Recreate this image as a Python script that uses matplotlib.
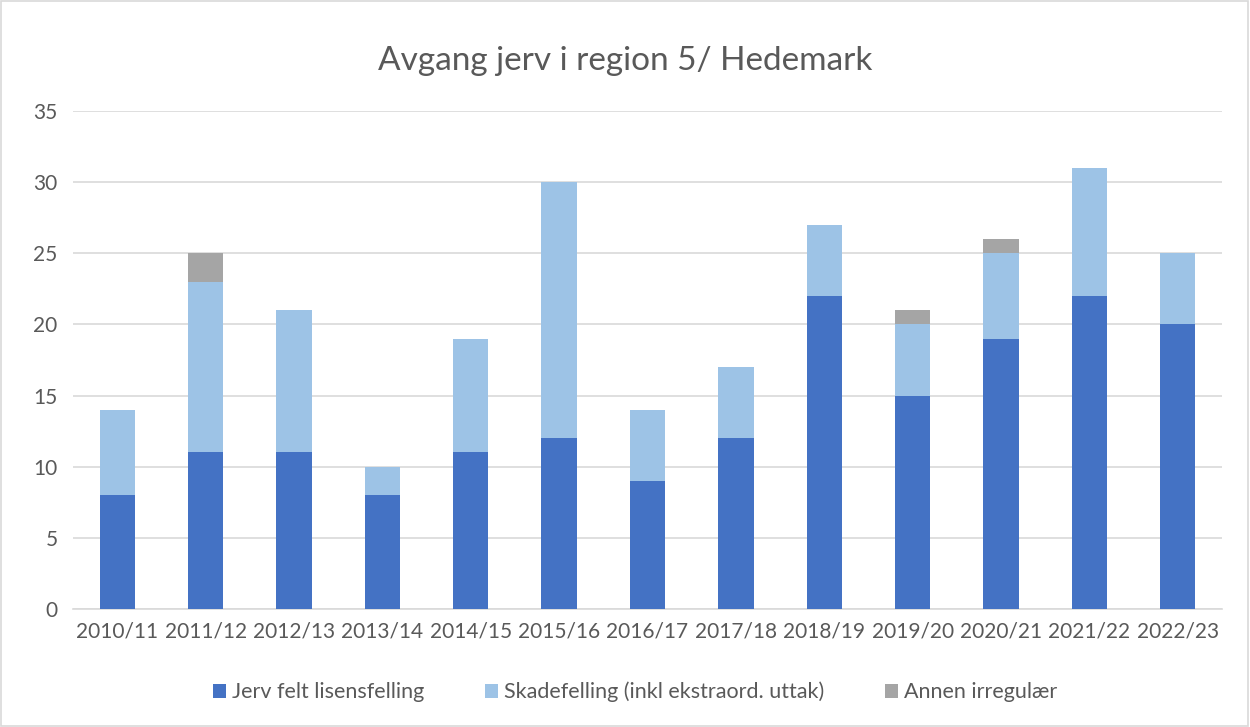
import matplotlib.pyplot as plt
import numpy as np
from matplotlib.patches import Rectangle

sesonger = ["2010/11", "2011/12", "2012/13", "2013/14", "2014/15", "2015/16", "2016/17",
            "2017/18", "2018/19", "2019/20", "2020/21", "2021/22", "2022/23"]
lisens = [8, 11, 11, 8, 11, 12, 9, 12, 22, 15, 19, 22, 20]
skade = [6, 12, 10, 2, 8, 18, 5, 5, 5, 5, 6, 9, 5]
annen = [0, 2, 0, 0, 0, 0, 0, 0, 0, 1, 1, 0, 0]

plt.rcParams['font.family'] = ['Lato', 'DejaVu Sans']
tekst = '#595959'

fig = plt.figure(figsize=(12.5, 7.27), dpi=100)
ax = fig.add_axes([0.0584, 0.1623, 0.9192, 0.685])

x = np.arange(len(sesonger))
b = 0.4
lisens = np.array(lisens)
skade = np.array(skade)
annen = np.array(annen)
ax.bar(x, lisens, b, color='#4472C4', label='Jerv felt lisensfelling', zorder=3)
ax.bar(x, skade, b, bottom=lisens, color='#9DC3E6', label='Skadefelling (inkl ekstraord. uttak)', zorder=3)
ax.bar(x, annen, b, bottom=lisens + skade, color='#A5A5A5', label='Annen irregulær', zorder=3)

ax.set_xlim(-0.5, len(sesonger) - 0.5)
ax.set_ylim(0, 35)
ax.set_yticks(range(0, 36, 5))
ax.set_xticks(x)
ax.set_xticklabels(sesonger)
ax.grid(axis='y', color='#D9D9D9', linewidth=1.2, zorder=0)
for s in ['top', 'right', 'left']:
    ax.spines[s].set_visible(False)
ax.spines['bottom'].set_color('#D9D9D9')
ax.spines['bottom'].set_linewidth(1.2)
ax.tick_params(length=0, labelsize=15, labelcolor=tekst)
ax.tick_params(axis='y', pad=11)
ax.tick_params(axis='x', pad=9)

fig.suptitle('Avgang jerv i region 5/ Hedemark', y=0.937, fontsize=24, color=tekst)

fig.legend(loc='center', bbox_to_anchor=(0.508, 0.048), ncol=3, frameon=False,
           fontsize=15.5, labelcolor=tekst, handlelength=0.6, handleheight=0.6,
           handletextpad=0.3, columnspacing=2.8)

fig.patches.append(Rectangle((0.001, 0.001), 0.997, 0.997, transform=fig.transFigure,
                             fill=False, edgecolor='#D9D9D9', linewidth=1.2))

fig.savefig('out.png', dpi=100)
